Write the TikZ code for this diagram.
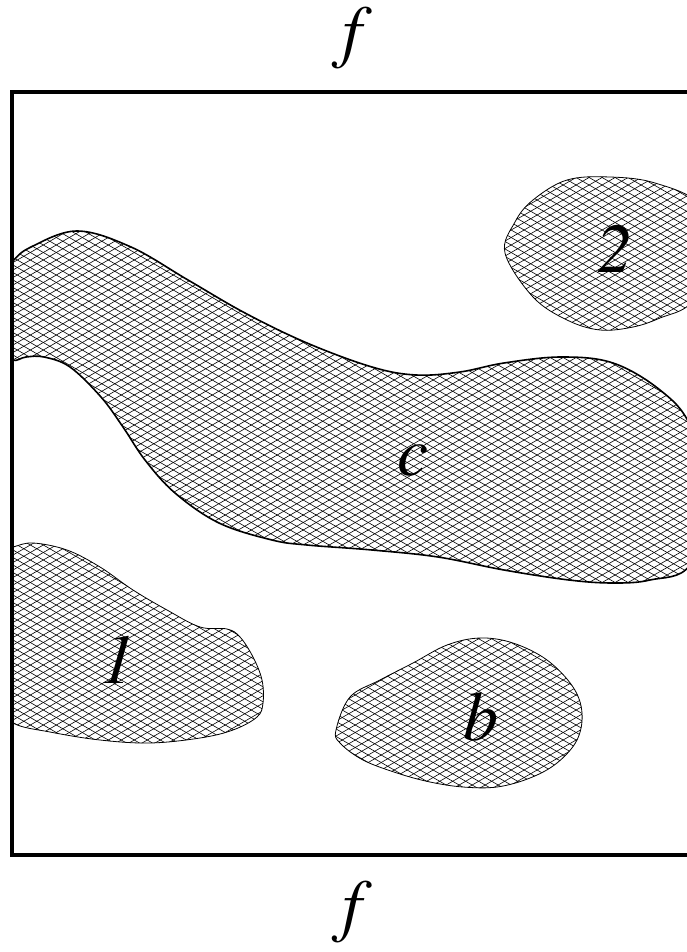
\documentclass[tikz,border=0pt]{standalone}
\usepackage[T1,TU]{fontenc}
\usepackage{fontspec}
\setmainfont{Liberation Serif}
\begin{document}
\begin{tikzpicture}[x=1pt,y=-1pt,
  hatch/.style={line width=0.6pt,black},
  thickedge/.style={line width=1.6pt,black},
  thinedge/.style={line width=0.8pt,black},
  frameline/.style={line width=4.5pt,black,line join=miter},
  lab/.style={font=\fontencoding{T1}\fontfamily{ptm}\fontsize{70}{84}\selectfont\itshape,inner sep=0pt,anchor=base}]
\useasboundingbox (0,0) rectangle (687,952);
\newcommand\hatchlines{%
  \foreach \k in {0,...,185}{%
    \draw[hatch] (0,{-410+7.5*\k}) -- ++(700,404);
    \draw[hatch] (0,{7.5*\k}) -- ++(700,-404);}}
\def\blobc{plot[smooth cycle,tension=0.6] coordinates {(-5,285) (12,262) (31,247) (77,231) (131,247) (188,280) (245,313) (307,343) (372,367) (416,375) (460,372) (504,363) (561,357) (613,363) (660,390) (690,425) (710,495) (690,565) (650,580) (613,583) (569,580) (504,570) (438,557) (372,550) (307,545) (272,540) (219,523) (175,493) (145,460) (123,427) (101,397) (70,367) (44,357) (26,357) (12,360) (-5,345)}}
\def\blobtwo{plot[smooth cycle,tension=0.6] coordinates {(505,253) (515,222) (533,200) (567,180) (610,177) (655,183) (700,205) (714,255) (692,302) (660,318) (633,327) (600,330) (567,320) (533,297)}}
\def\blobone{plot[smooth cycle,tension=0.6] coordinates {(-5,552) (13,547) (33,543) (67,550) (100,567) (133,590) (167,610) (200,627) (227,629) (240,637) (253,657) (262,680) (263,703) (257,717) (233,730) (200,738) (150,743) (100,740) (50,732) (13,723) (-10,700) (-10,600)}}
\def\blobb{plot[smooth cycle,tension=0.6] coordinates {(336,730) (350,697) (380,680) (413,663) (447,645) (480,638) (513,643) (547,660) (573,687) (582,713) (577,740) (557,763) (530,778) (497,787) (463,787) (430,782) (397,773) (363,760) (340,743)}}
\begin{scope}
  \clip (12,0) rectangle (687,952);
  \begin{scope}\clip \blobc; \hatchlines \end{scope}
  \begin{scope}\clip \blobtwo; \hatchlines \end{scope}
  \begin{scope}\clip \blobone; \hatchlines \end{scope}
  \begin{scope}\clip \blobb; \hatchlines \end{scope}
  \draw[thickedge] \blobc;
  \draw[thinedge] \blobtwo;
  \draw[thinedge] \blobone;
  \draw[thinedge] \blobb;
\end{scope}
\draw[frameline] (690,92) -- (12,92) -- (12,855) -- (690,855);
\node[lab] (ftop) at (352,55) {f};
\node[lab] (fbot) at (352,928) {f};
\node[lab] (l2) at (615,272) {2};
\node[lab] (lc) at (413,475) {c};
\node[lab] (l1) at (118,683) {1};
\node[lab] (lb) at (481,740) {b};
\end{tikzpicture}
\end{document}
